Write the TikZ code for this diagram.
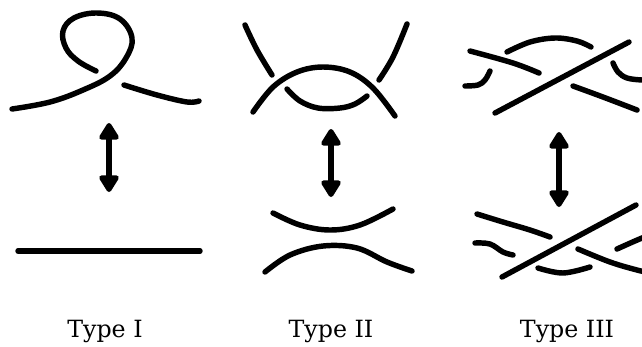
\documentclass[tikz,border=0pt]{standalone}
\usepackage{fontspec}
\setmainfont{DejaVu Serif}
\usetikzlibrary{arrows.meta}
\tikzset{
  strand/.style={line width=3.1pt,line cap=round,line join=round},
  movearrow/.style={line width=3.1pt,{Triangle[length=0.38cm,width=0.44cm,round]}-{Triangle[length=0.38cm,width=0.44cm,round]}},
  movelabel/.style={anchor=base,inner sep=0pt,font=\fontsize{13.5}{16}\selectfont},
}

\begin{document}
\begin{tikzpicture}[x=0.02cm,y=-0.02cm]
\clip (0,0) rectangle (642,346);

% Type I: kink above, plain arc below
\draw[strand] plot[smooth,tension=0.65] coordinates {(96,71) (78,61) (66,48) (63,31) (74,18) (97,13) (120,19) (132,38) (126,58) (110,76) (83,90) (50,102) (12,109)};
\draw[strand] plot[smooth,tension=0.6] coordinates {(124,85) (157,95) (187,102) (199,101)};
\draw[strand] (18,251) -- (200,251);

% Type II: two crossings above, separated arcs below
\draw[strand] plot[smooth,tension=0.6] coordinates {(245,25) (257,50) (272,75)};
\draw[strand] plot[smooth,tension=0.6] coordinates {(287,89) (300,101) (318,108) (340,108) (355,104) (367,96)};
\draw[strand] plot[smooth,tension=0.6] coordinates {(379,80) (393,57) (407,24)};
\draw[strand] plot[smooth,tension=0.6] coordinates {(253,112) (273,87) (297,72) (323,67) (350,72) (373,88) (395,116)};
\draw[strand] plot[smooth,tension=0.6] coordinates {(273,213) (300,225) (330,230) (360,225) (393,209)};
\draw[strand] plot[smooth,tension=0.6] coordinates {(265,272) (290,255) (323,246) (357,248) (387,262) (412,271)};

% Type III: strand slid across the over-crossing
\draw[strand] (495,113) -- (629,42);
\draw[strand] plot[smooth,tension=0.6] coordinates {(470,51) (513,63) (539,73)};
\draw[strand] plot[smooth,tension=0.6] coordinates {(573,86) (603,97) (637,110)};
\draw[strand] plot[smooth,tension=0.6] coordinates {(465,86) (478,85) (485,80) (490,71)};
\draw[strand] plot[smooth,tension=0.6] coordinates {(507,52) (530,42) (555,38) (577,41) (591,47)};
\draw[strand] plot[smooth,tension=0.6] coordinates {(613,63) (618,72) (627,78) (642,80) (655,80)};

\draw[strand] (502,277) -- (636,205);
\draw[strand] plot[smooth,tension=0.6] coordinates {(477,214) (503,222) (530,230) (550,237)};
\draw[strand] plot[smooth,tension=0.6] coordinates {(578,249) (610,262) (637,270) (655,274)};
\draw[strand] plot[smooth,tension=0.6] coordinates {(475,243) (490,244) (503,252) (513,255)};
\draw[strand] plot[smooth,tension=0.6] coordinates {(538,268) (563,273) (590,267)};
\draw[strand] plot[smooth,tension=0.6] coordinates {(617,249) (642,238) (655,234)};

% the moves
\coordinate (onetop) at (109,123);
\coordinate (onebot) at (109,192);
\coordinate (twotop) at (331,129);
\coordinate (twobot) at (331,197);
\coordinate (threetop) at (559,132);
\coordinate (threebot) at (559,207);
\draw[movearrow] (onetop) -- (onebot);
\draw[movearrow] (twotop) -- (twobot);
\draw[movearrow] (threetop) -- (threebot);

\node[movelabel] (typeone) at (105,337) {Type I};
\node[movelabel] (typetwo) at (331,337) {Type II};
\node[movelabel] (typethree) at (567,337) {Type III};

\end{tikzpicture}
\end{document}
